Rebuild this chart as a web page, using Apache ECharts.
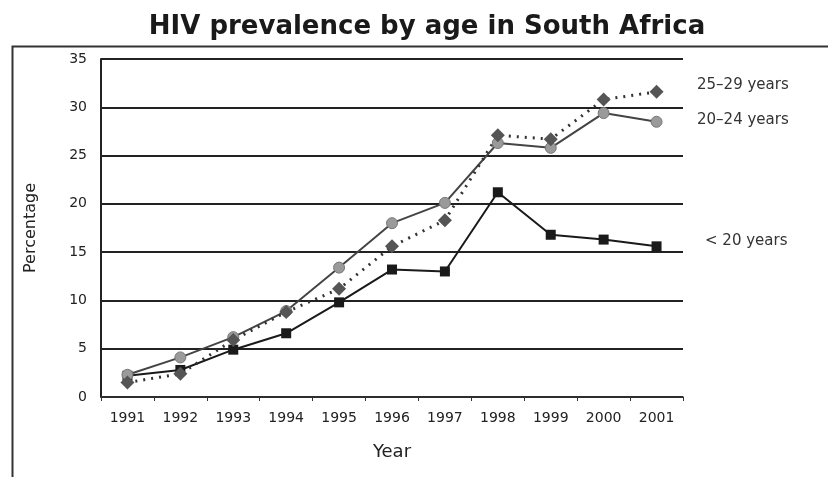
<!DOCTYPE html>
<html><head><meta charset="utf-8">
<script src="https://cdn.jsdelivr.net/npm/echarts@6/dist/echarts.min.js"></script>
<style>html,body{margin:0;padding:0;background:#fff}#c{width:828px;height:477px}</style>
</head><body><div id="c"></div>
<script>
const years = ['1991','1992','1993','1994','1995','1996','1997','1998','1999','2000','2001'];
const under20 = [2.2, 2.8, 4.9, 6.6, 9.8, 13.2, 13.0, 21.2, 16.8, 16.3, 15.6];
const age20to24 = [2.3, 4.1, 6.2, 8.9, 13.4, 18.0, 20.1, 26.3, 25.8, 29.4, 28.5];
const age25to29 = [1.5, 2.4, 5.9, 8.8, 11.2, 15.6, 18.3, 27.1, 26.7, 30.8, 31.6];
const seriesNames = ['< 20 years', '20–24 years', '25–29 years'];

const chart = echarts.init(document.getElementById('c'));
const font = 'DejaVu Sans, sans-serif';
chart.setOption({
  animation: false,
  backgroundColor: '#fff',
  title: { text: 'HIV prevalence by age in South Africa', left: 422, top: 9, textAlign: 'center',
    textStyle: { fontFamily: font, fontSize: 26, fontWeight: 'bold', color: '#1a1a1a' } },
  grid: { left: 101, right: 145, top: 59, bottom: 80 },
  xAxis: { type: 'category', data: years, boundaryGap: true, name: 'Year', nameLocation: 'middle', nameGap: 46,
    nameTextStyle: { fontFamily: font, fontSize: 18, color: '#222' },
    axisLine: { lineStyle: { color: '#333', width: 1.5 } },
    axisTick: { show: true, lineStyle: { color: '#333' }, length: 4 },
    axisLabel: { fontFamily: font, fontSize: 14, color: '#222', margin: 14 } },
  yAxis: { type: 'value', min: 0, max: 35, interval: 5, name: 'Percentage', nameLocation: 'middle', nameGap: 62,
    nameTextStyle: { fontFamily: font, fontSize: 16, color: '#222' },
    axisLine: { show: true, lineStyle: { color: '#222', width: 2 } },
    axisTick: { show: false },
    axisLabel: { fontFamily: font, fontSize: 14, color: '#222', margin: 14 },
    splitLine: { lineStyle: { color: '#222', width: 2 } } },
  series: [
    { name: seriesNames[0], type: 'line', data: under20, symbol: 'rect', symbolSize: 10,
      lineStyle: { color: '#1a1a1a', width: 2 }, itemStyle: { color: '#1a1a1a' } },
    { name: seriesNames[1], type: 'line', data: age20to24, symbol: 'circle', symbolSize: 11,
      lineStyle: { color: '#444', width: 2 }, itemStyle: { color: '#9a9a9a', borderColor: '#777', borderWidth: 1 } },
    { name: seriesNames[2], type: 'line', data: age25to29, symbol: 'diamond', symbolSize: 14,
      lineStyle: { color: '#333', width: 3, type: [2, 6] }, itemStyle: { color: '#555' } }
  ],
  graphic: [
    { type: 'rect', left: 10, top: 44, shape: { width: 830, height: 440 }, style: { fill: 'none', stroke: '#333', lineWidth: 2 }, silent: true, z: -1 },
    { type: 'text', left: 697, top: 78, style: { text: seriesNames[2], font: '15px ' + font, fill: '#333' } },
    { type: 'text', left: 697, top: 113, style: { text: seriesNames[1], font: '15px ' + font, fill: '#333' } },
    { type: 'text', left: 705, top: 234, style: { text: seriesNames[0], font: '15px ' + font, fill: '#333' } }
  ]
});
</script></body></html>
